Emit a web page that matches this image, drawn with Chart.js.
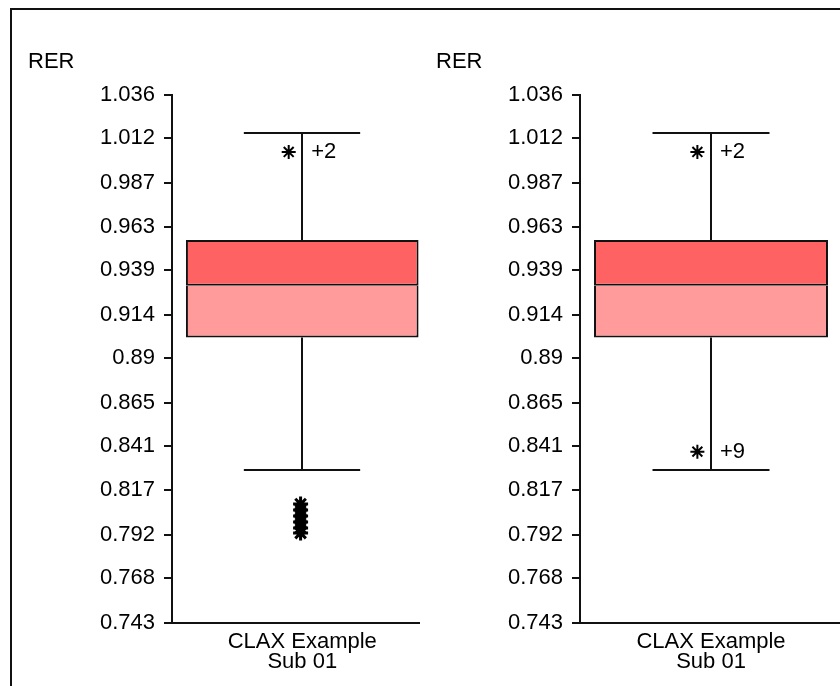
<!DOCTYPE html>
<html lang="en">
<head>
<meta charset="UTF-8">
<title>RER box plots</title>
<script src="https://cdn.jsdelivr.net/npm/chart.js"></script>
<style>
  html, body { margin: 0; padding: 0; background: #fff; overflow: hidden; }
  #wrap { position: relative; width: 840px; height: 686px; overflow: hidden; }
  canvas { position: absolute; top: 0; background: #fff; }
  #leftChart { left: 0; }
  #rightChart { left: 420px; }
  #frame { position: absolute; left: 10px; top: 8px; width: 840px; height: 690px;
           border-top: 2px solid #111; border-left: 2px solid #111; pointer-events: none; }
</style>
</head>
<body>
<div id="wrap">
  <canvas id="leftChart" width="443" height="686"></canvas>
  <canvas id="rightChart" width="431" height="686"></canvas>
  <div id="frame"></div>
</div>
<script>
const categories = [['CLAX Example', 'Sub 01']];
const axisTitle = 'RER';
const yTicks = [0.743, 0.768, 0.792, 0.817, 0.841, 0.865, 0.89, 0.914, 0.939, 0.963, 0.987, 1.012, 1.036];

// one entry per panel (left, right)
const whiskerLow  = [0.8279, 0.8279];
const quartile1   = [0.9015, 0.9015];
const medians     = [0.9302, 0.9302];
const quartile3   = [0.9555, 0.9555];
const whiskerHigh = [1.0148, 1.0148];
const means       = [0.9252, 0.9252];
const outliers    = [[0.8090, 0.8057, 0.8024, 0.7990, 0.7957, 0.7929], []];
const markHigh    = [1.0044, 1.0044];
const markHighTxt = ['+2', '+2'];
const markLow     = [null, 0.8381];
const markLowTxt  = [null, '+9'];

const FONT = { family: '"Liberation Sans", Arial, sans-serif', size: 22 };
const INK = '#111';

const boxExtras = {
  id: 'boxExtras',
  beforeDatasetsDraw(chart, args, opts) {
    const p = opts.panel;
    const ctx = chart.ctx;
    const y = chart.scales.y;
    const bar = chart.getDatasetMeta(0).data[0];
    const cx = Math.round(bar.x), half = bar.width / 4;
    ctx.save();
    ctx.strokeStyle = INK;
    ctx.lineWidth = 2;
    [[quartile3[p], whiskerHigh[p]], [quartile1[p], whiskerLow[p]]].forEach(([from, to]) => {
      const y0 = y.getPixelForValue(from), y1 = Math.round(y.getPixelForValue(to));
      ctx.beginPath();
      ctx.moveTo(cx, y0); ctx.lineTo(cx, y1);
      ctx.moveTo(cx - half, y1); ctx.lineTo(cx + half, y1);
      ctx.stroke();
    });
    ctx.restore();
  },
  afterDatasetsDraw(chart, args, opts) {
    const p = opts.panel;
    const ctx = chart.ctx;
    const y = chart.scales.y;
    const cx = chart.getDatasetMeta(0).data[0].x;
    ctx.save();
    ctx.fillStyle = '#000';
    ctx.font = FONT.size + 'px ' + FONT.family;
    ctx.textBaseline = 'middle';
    [[markHigh[p], markHighTxt[p]], [markLow[p], markLowTxt[p]]].forEach(([v, t]) => {
      if (v === null) return;
      ctx.fillText(t, cx + 9, y.getPixelForValue(v));
    });
    ctx.textBaseline = 'alphabetic';
    ctx.fillText(axisTitle, chart.chartArea.left - 144, 68);
    ctx.restore();
  }
};

function makeChart(id, p, yWidth) {
  const marks = [markHigh[p], markLow[p]].filter(v => v !== null);
  return new Chart(document.getElementById(id), {
    type: 'bar',
    data: {
      labels: categories,
      datasets: [
        { label: 'Q1 - median', data: [[quartile1[p], medians[p]]], backgroundColor: '#ff9b9b',
          borderWidth: { top: 0, bottom: 2, left: 2, right: 2 } },
        { label: 'median - Q3', data: [[medians[p], quartile3[p]]], backgroundColor: '#ff6262' },
        { type: 'scatter', label: 'Mean', xAxisID: 'xs', data: [{ x: 0, y: means[p] }],
          pointStyle: 'rect', radius: 5, backgroundColor: '#000', borderWidth: 0 },
        { type: 'scatter', label: 'Outliers', xAxisID: 'xs', data: outliers[p].map(v => ({ x: -0.008, y: v })),
          pointStyle: 'star', radius: 7.5, borderColor: '#000', borderWidth: 3 },
        { type: 'scatter', label: 'Off scale', xAxisID: 'xs', data: marks.map(v => ({ x: -0.065, y: v })),
          pointStyle: 'star', radius: 7, borderColor: '#000', borderWidth: 2 }
      ]
    },
    options: {
      responsive: false,
      animation: false,
      layout: { padding: { top: 95, left: 0, right: 1, bottom: 0 } },
      datasets: {
        bar: { grouped: false, categoryPercentage: 1, barPercentage: 0.893,
               borderWidth: 2, borderColor: INK, borderSkipped: false }
      },
      plugins: {
        legend: { display: false },
        tooltip: { enabled: false },
        boxExtras: { panel: p }
      },
      scales: {
        x: {
          type: 'category', offset: true,
          grid: { display: false, drawTicks: false },
          border: { display: true, color: INK, width: 2 },
          ticks: { color: '#000', font: { ...FONT, lineHeight: 0.95 }, padding: 8, maxRotation: 0 },
          afterFit(s) { s.height = 63; }
        },
        xs: { type: 'linear', min: -0.5, max: 0.5, display: false },
        y: {
          min: 0.743, max: 1.036,
          afterBuildTicks(s) { s.ticks = yTicks.map(v => ({ value: v })); },
          grid: { drawOnChartArea: false, drawTicks: true, tickLength: 8, color: INK, lineWidth: 2 },
          border: { display: true, color: INK, width: 2 },
          ticks: { color: '#000', font: FONT, padding: 9, callback: v => String(v) },
          afterFit(s) { s.width = yWidth; }
        }
      }
    },
    plugins: [boxExtras]
  });
}

makeChart('leftChart', 0, 172);
makeChart('rightChart', 1, 160);
</script>
</body>
</html>
